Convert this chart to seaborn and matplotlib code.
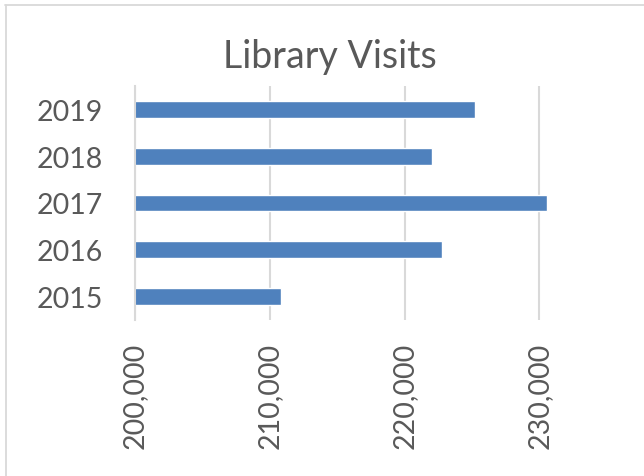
import matplotlib
matplotlib.use("Agg")
import matplotlib.pyplot as plt
import seaborn as sns
import pandas as pd
from matplotlib.ticker import FuncFormatter, FixedLocator
from matplotlib.lines import Line2D

# datos
years = ["2019", "2018", "2017", "2016", "2015"]
visits = [225200, 222000, 230600, 222750, 210800]

df = pd.DataFrame({"Year": years, "Visits": visits})

sns.set_style("white")
plt.rcParams["font.family"] = ["Lato", "DejaVu Sans"]

texto = "#595959"
gris = "#d9d9d9"

fig = plt.figure(figsize=(6.44, 4.77), dpi=100)
ax = fig.add_axes([135 / 644, 1 - 320.7 / 477, (606.8 - 135) / 644, (320.7 - 87.3) / 477])

sns.barplot(data=df, x="Visits", y="Year", order=years, orient="h",
            color="#4f81bd", saturation=1, width=0.36, ax=ax)

ax.set_xlim(200000, 235000)
ax.set_ylim(4.5, -0.5)
ax.xaxis.set_major_locator(FixedLocator([200000, 210000, 220000, 230000]))
ax.xaxis.set_major_formatter(FuncFormatter(lambda v, p: f"{int(v):,}"))
ax.grid(axis="x", color=gris, linewidth=1.5)
ax.set_axisbelow(True)

for s in ["top", "right", "bottom"]:
    ax.spines[s].set_visible(False)
ax.spines["left"].set_color(gris)
ax.spines["left"].set_linewidth(1.5)

ax.yaxis.set_minor_locator(FixedLocator([-0.5, 0.5, 1.5, 2.5, 3.5, 4.5]))
ax.tick_params(axis="y", which="minor", length=7, color=gris, width=1.5)
ax.tick_params(axis="y", which="major", length=0, pad=23, labelsize=20.5, labelcolor=texto)
ax.tick_params(axis="x", length=0, pad=16, labelsize=20.5, labelcolor=texto, labelrotation=90)

ax.set_xlabel("")
ax.set_ylabel("")

fig.text(330 / 644, 1 - 68 / 477, "Library Visits", ha="center", va="baseline",
         fontsize=27, color=texto)

# marco del grafico
fig.add_artist(Line2D([5 / 644, 1], [1 - 6 / 477, 1 - 6 / 477], color=gris, linewidth=1.3))
fig.add_artist(Line2D([6 / 644, 6 / 644], [0, 1 - 6 / 477], color=gris, linewidth=1.3))

fig.savefig("out.png", dpi=100)
